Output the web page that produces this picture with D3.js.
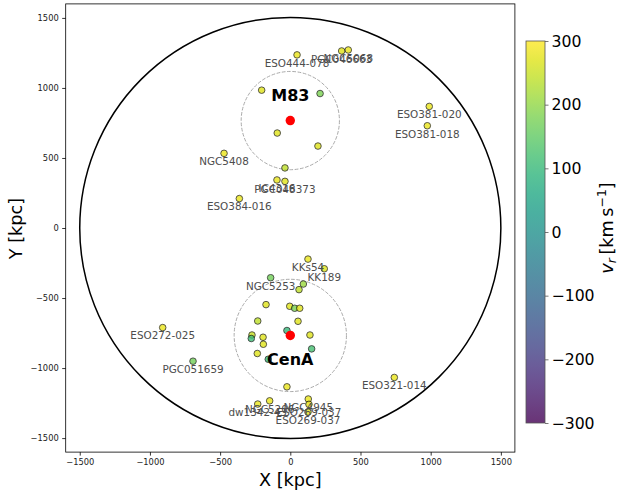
<!DOCTYPE html>
<html>
<head>
<meta charset="utf-8">
<script src="https://cdn.jsdelivr.net/npm/d3@7"></script>
<style>
  body { margin: 0; background: #fff; }
  svg { font-family: "DejaVu Sans", sans-serif; }
</style>
</head>
<body>
<svg id="chart" width="622" height="492"></svg>
<script>
// galaxy positions (kpc) and radial velocities (km/s)
const names = ["ESO444-078", "PGC046663", "NGC5068", "", "", "", "", "", "IC4316", "PGC048373",
  "NGC5408", "ESO384-016", "ESO381-020", "ESO381-018", "KKs54", "KK189", "NGC5253", "", "", "",
  "", "", "", "", "", "", "", "", "", "",
  "", "", "", "", "", "dw1342-43", "NGC5206", "NGC4945", "ESO269-037", "ESO269-037",
  "ESO321-014", "ESO272-025", "PGC051659"];
const xs = [48, 366, 413, -204, 212, -93, 197, -38, -95, -38,
  -472, -363, 990, 976, 126, 242, -140, 93, 62, -173,
  -4, 31, 67, -232, 55, -24, -273, -278, -194, 140,
  -192, 152, -235, -157, -24, -232, -147, 128, 133, 126,
  741, -909, -693];
const ys = [1236, 1264, 1271, 984, 960, 678, 585, 429, 343, 333,
  533, 210, 868, 730, -222, -291, -355, -400, -440, -547,
  -559, -573, -573, -664, -666, -732, -764, -789, -780, -764,
  -830, -863, -896, -937, -1134, -1257, -1234, -1221, -1259, -1314,
  -1067, -711, -951];
const vr = [280, 270, 280, 270, 180, 270, 270, 240, 280, 270,
  280, 280, 280, 280, 280, 270, 170, 210, 240, 270,
  270, 180, 270, 240, 270, 100, 250, 110, 270, 270,
  270, 120, 270, 100, 280, 280, 280, 280, 280, 280,
  280, 280, 170];

// group centres and the radii of the dashed circles
const hosts = ["M83", "CenA"];
const hostX = [0, 0];
const hostY = [767, -767];
const hostR = [350, 400];
const outerR = 1500;

const axisTicks = [-1500, -1000, -500, 0, 500, 1000, 1500];
const cbTicks = [-300, -200, -100, 0, 100, 200, 300];

const svg = d3.select("#chart");

const x = d3.scaleLinear().domain([-1600, 1600]).range([65.7, 514.9]);
const y = d3.scaleLinear().domain([-1600, 1600]).range([452.1, 3.9]);
const kpc = Math.abs(x(1) - x(0));

const color = d3.scaleSequential(d3.interpolateViridis).domain([-300, 300]).clamp(true);

const g = svg.append("g");

// outer circle
g.append("circle")
  .attr("cx", x(0)).attr("cy", y(0)).attr("r", outerR * kpc)
  .attr("fill", "none").attr("stroke", "#000").attr("stroke-width", 1.5);

// dashed circles round the two hosts
g.selectAll(".hostring")
  .data(hosts)
  .join("circle")
  .attr("class", "hostring")
  .attr("cx", (d, i) => x(hostX[i]))
  .attr("cy", (d, i) => y(hostY[i]))
  .attr("r", (d, i) => hostR[i] * kpc)
  .attr("fill", "none")
  .attr("stroke", "#aaa")
  .attr("stroke-width", 1)
  .attr("stroke-dasharray", "3.7,1.6");

// satellites
g.selectAll(".gal")
  .data(names)
  .join("circle")
  .attr("class", "gal")
  .attr("cx", (d, i) => x(xs[i]))
  .attr("cy", (d, i) => y(ys[i]))
  .attr("r", 3.3)
  .attr("fill", (d, i) => color(vr[i]))
  .attr("stroke", "#000")
  .attr("stroke-width", 0.8)
  .attr("opacity", 0.8);

// host markers
g.selectAll(".host")
  .data(hosts)
  .join("circle")
  .attr("class", "host")
  .attr("cx", (d, i) => x(hostX[i]))
  .attr("cy", (d, i) => y(hostY[i]))
  .attr("r", 4.7)
  .attr("fill", "red");

// galaxy names, just below each marker
g.selectAll(".lbl")
  .data(names.map((n, i) => i).filter(i => names[i] !== ""))
  .join("text")
  .attr("class", "lbl")
  .attr("x", i => x(xs[i]))
  .attr("y", i => y(ys[i]) + 11.8)
  .attr("text-anchor", "middle")
  .attr("fill", "#4d4d4d")
  .style("font-size", "10.4px")
  .text(i => names[i]);

// host names: M83 above, CenA below
g.selectAll(".hostlbl")
  .data(hosts)
  .join("text")
  .attr("class", "hostlbl")
  .attr("x", (d, i) => x(hostX[i]))
  .attr("y", (d, i) => y(hostY[i]) + (i === 0 ? -20 : 30))
  .attr("text-anchor", "middle")
  .style("font-size", "16px")
  .style("font-weight", "bold")
  .text(d => d);

// frame
svg.append("rect")
  .attr("x", 65.7).attr("y", 3.9)
  .attr("width", 514.9 - 65.7).attr("height", 452.1 - 3.9)
  .attr("fill", "none").attr("stroke", "#000").attr("stroke-width", 0.8);

// axes
const fmt = d3.format("d");
const xAxis = svg.append("g")
  .attr("transform", "translate(0,452.1)")
  .call(d3.axisBottom(x).tickValues(axisTicks).tickFormat(fmt).tickSize(3.5).tickPadding(3.5));
const yAxis = svg.append("g")
  .attr("transform", "translate(65.7,0)")
  .call(d3.axisLeft(y).tickValues(axisTicks).tickFormat(fmt).tickSize(3.5).tickPadding(3.5));
[xAxis, yAxis].forEach(a => {
  a.select(".domain").remove();
  a.selectAll("text").style("font-size", "8.3px").style("font-family", "DejaVu Sans").attr("fill", "#222");
  a.selectAll("line").attr("stroke", "#000").attr("stroke-width", 0.8);
});

svg.append("text")
  .attr("x", 290.3).attr("y", 485.5)
  .attr("text-anchor", "middle")
  .style("font-size", "17.7px")
  .text("X [kpc]");
svg.append("text")
  .attr("transform", "translate(21.5,228.5) rotate(-90)")
  .attr("text-anchor", "middle")
  .style("font-size", "17.7px")
  .text("Y [kpc]");

// colourbar
const cbX = 526, cbW = 19, cbTop = 41, cbBot = 423;
const cy = d3.scaleLinear().domain([-300, 300]).range([cbBot, cbTop]);
const grad = svg.append("defs").append("linearGradient")
  .attr("id", "vgrad").attr("x1", 0).attr("y1", 1).attr("x2", 0).attr("y2", 0);
grad.selectAll("stop")
  .data(d3.range(0, 1.0001, 0.05))
  .join("stop")
  .attr("offset", d => d)
  .attr("stop-color", d => d3.interpolateViridis(d));
svg.append("rect")
  .attr("x", cbX).attr("y", cbTop).attr("width", cbW).attr("height", cbBot - cbTop)
  .attr("fill", "url(#vgrad)").attr("opacity", 0.8);
svg.append("rect")
  .attr("x", cbX).attr("y", cbTop).attr("width", cbW).attr("height", cbBot - cbTop)
  .attr("fill", "none").attr("stroke", "#555").attr("stroke-width", 0.8);
const cbAxis = svg.append("g")
  .attr("transform", `translate(${cbX + cbW},0)`)
  .call(d3.axisRight(cy).tickValues(cbTicks).tickFormat(fmt).tickSize(3.5).tickPadding(3));
cbAxis.select(".domain").remove();
cbAxis.selectAll("text").style("font-size", "15.7px").style("font-family", "DejaVu Sans").attr("fill", "#000");
cbAxis.selectAll("line").attr("stroke", "#555").attr("stroke-width", 0.8);

const vlab = svg.append("text")
  .attr("transform", "translate(612.5,228) rotate(-90)")
  .attr("text-anchor", "middle")
  .style("font-size", "17.7px");
vlab.append("tspan").style("font-style", "italic").text("v");
vlab.append("tspan").style("font-style", "italic").style("font-size", "12.4px").attr("dy", 3).text("r");
vlab.append("tspan").attr("dy", -3).text("\u2009[km\u2009s");
vlab.append("tspan").style("font-size", "12.4px").attr("dy", -7).text("−1");
vlab.append("tspan").attr("dy", 7).text("]");
</script>
</body>
</html>
